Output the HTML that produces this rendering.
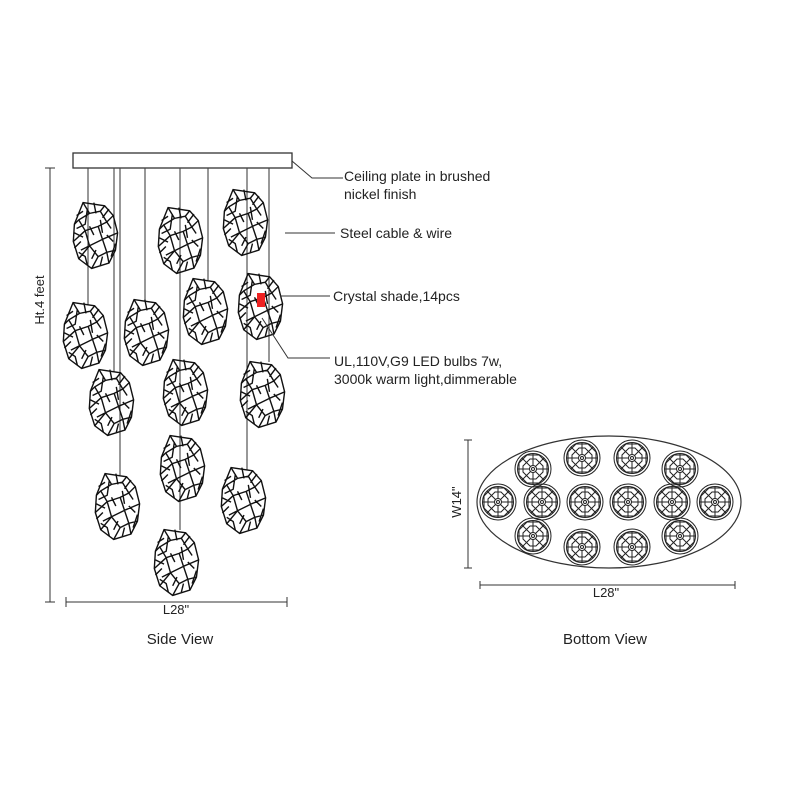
<!DOCTYPE html>
<html><head><style>html,body{margin:0;padding:0;background:#fff}svg{display:block}text{font-family:"Liberation Sans",sans-serif;fill:#222}</style></head>
<body>
<svg width="800" height="800" viewBox="0 0 800 800" xmlns="http://www.w3.org/2000/svg">
<defs>
<g id="sh" fill="none" stroke="#111" stroke-width="1.3">
<path d="M-12,-30 L8,-27 L16,-18 L20,-2 L18,14 L12,26 L-4,31 L-16,22 L-21,6 L-20,-10 Z"/>
<path d="M-12,-30 L-6,-20 L4,-22 L8,-27 M-6,-20 L-16,-14 L-20,-10 M4,-22 L10,-12 L16,-18 M-16,-14 L-10,-4 L2,-8 L10,-12 M-10,-4 L-21,6 M2,-8 L6,4 L20,-2 M-10,-4 L-6,10 L6,4 M-6,10 L-16,22 M6,4 L10,16 L18,14 M-6,10 L2,20 L10,16 M2,20 L-4,31 M10,16 L12,26 M-2,-30 L0,-20 M-20,-2 L-12,2 M-14,14 L-6,10 M14,-6 L10,-12 M4,-14 L6,-2 M-18,-6 L-10,-10 L-8,-24 M12,-24 L6,-16 M16,6 L10,0 M-16,16 L-10,20 L-8,28 M4,28 L6,20 M-20,12 L-14,6 M14,20 L18,8 M-2,0 L-6,-8 M0,14 L-4,22 M-12,-22 L-18,-18"/>
</g>
<g id="bv" fill="none" stroke="#222" stroke-width="1">
<circle r="18"/><circle r="15.5"/><circle r="3.5"/><circle r="1.5"/>
<path d="M0,-3.5V-15.5M0,3.5V15.5M-3.5,0H-15.5M3.5,0H15.5M2.5,-2.5L11,-11M-2.5,2.5L-11,11M2.5,2.5L11,11M-2.5,-2.5L-11,-11"/>
<path d="M-6,-14L6,-14L14,-6L14,6L6,14L-6,14L-14,6L-14,-6Z"/>
<path d="M-3,-10L3,-10L10,-3L10,3L3,10L-3,10L-10,3L-10,-3Z"/>
</g>
</defs>
<rect x="73" y="153" width="219" height="15" fill="#fff" stroke="#333" stroke-width="1.3"/>
<g stroke="#444" stroke-width="1.1">
<line x1="88" y1="168" x2="88" y2="305"/>
<line x1="114" y1="168" x2="114" y2="372"/>
<line x1="120" y1="168" x2="120" y2="475"/>
<line x1="145" y1="168" x2="145" y2="302"/>
<line x1="180" y1="168" x2="180" y2="530"/>
<line x1="208" y1="168" x2="208" y2="280"/>
<line x1="247" y1="168" x2="247" y2="470"/>
<line x1="269" y1="168" x2="269" y2="362"/>
</g>
<g>
<use href="#sh" transform="translate(96,235) scale(1.08)"/>
<use href="#sh" transform="translate(181,240) scale(1.08)"/>
<use href="#sh" transform="translate(246,222) scale(1.08)"/>
<use href="#sh" transform="translate(86,335) scale(1.08)"/>
<use href="#sh" transform="translate(147,332) scale(1.08)"/>
<use href="#sh" transform="translate(206,311) scale(1.08)"/>
<use href="#sh" transform="translate(261,306) scale(1.08)"/>
<use href="#sh" transform="translate(112,402) scale(1.08)"/>
<use href="#sh" transform="translate(186,392) scale(1.08)"/>
<use href="#sh" transform="translate(263,394) scale(1.08)"/>
<use href="#sh" transform="translate(118,506) scale(1.08)"/>
<use href="#sh" transform="translate(183,468) scale(1.08)"/>
<use href="#sh" transform="translate(244,500) scale(1.08)"/>
<use href="#sh" transform="translate(177,562) scale(1.08)"/>
</g>
<rect x="257" y="293" width="8" height="14" fill="#e22"/>
<g stroke="#333" stroke-width="1">
<line x1="50" y1="168" x2="50" y2="602"/><line x1="45" y1="168" x2="55" y2="168"/><line x1="45" y1="602" x2="55" y2="602"/>
<line x1="66" y1="602" x2="287" y2="602"/><line x1="66" y1="597" x2="66" y2="607"/><line x1="287" y1="597" x2="287" y2="607"/>
</g>
<text x="44" y="300" font-size="13" transform="rotate(-90 44 300)" text-anchor="middle">Ht.4 feet</text>
<text x="176" y="614" font-size="13" text-anchor="middle">L28"</text>
<text x="180" y="644" font-size="15" text-anchor="middle">Side View</text>
<g stroke="#333" stroke-width="1" fill="none">
<polyline points="292,161 312,178 343,178"/>
<line x1="285" y1="233" x2="335" y2="233"/>
<line x1="280" y1="296" x2="330" y2="296"/>
<polyline points="262,318 288,358 330,358"/>
</g>
<g font-size="14">
<text x="344" y="181">Ceiling plate in brushed</text>
<text x="344" y="199">nickel finish</text>
<text x="340" y="238">Steel cable &amp; wire</text>
<text x="333" y="301">Crystal shade,14pcs</text>
<text x="334" y="366">UL,110V,G9 LED bulbs 7w,</text>
<text x="334" y="384">3000k warm light,dimmerable</text>
</g>
<ellipse cx="609" cy="502" rx="132" ry="66" fill="none" stroke="#333" stroke-width="1.2"/>
<use href="#bv" x="533" y="469"/><use href="#bv" x="582" y="458"/><use href="#bv" x="632" y="458"/><use href="#bv" x="680" y="469"/>
<use href="#bv" x="498" y="502"/><use href="#bv" x="542" y="502"/><use href="#bv" x="585" y="502"/><use href="#bv" x="628" y="502"/><use href="#bv" x="672" y="502"/><use href="#bv" x="715" y="502"/>
<use href="#bv" x="533" y="536"/><use href="#bv" x="582" y="547"/><use href="#bv" x="632" y="547"/><use href="#bv" x="680" y="536"/>
<g stroke="#333" stroke-width="1">
<line x1="480" y1="585" x2="735" y2="585"/><line x1="480" y1="581" x2="480" y2="589"/><line x1="735" y1="581" x2="735" y2="589"/>
<line x1="468" y1="440" x2="468" y2="568"/><line x1="464" y1="440" x2="472" y2="440"/><line x1="464" y1="568" x2="472" y2="568"/>
</g>
<text x="606" y="597" font-size="13" text-anchor="middle">L28"</text>
<text x="461" y="502" font-size="13" text-anchor="middle" transform="rotate(-90 461 502)">W14"</text>
<text x="605" y="644" font-size="15" text-anchor="middle">Bottom View</text>
</svg>
</body></html>
